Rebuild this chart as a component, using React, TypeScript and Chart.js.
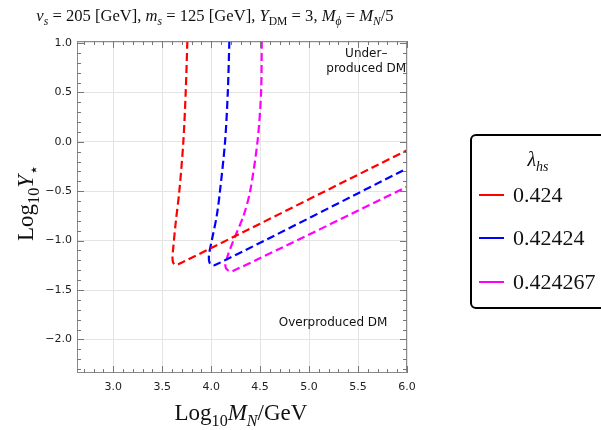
import React, { useEffect, useRef } from "react";
import { Chart, registerables } from "chart.js";
Chart.register(...registerables);

const xMin = 2.63;
const xMax = 6.0;
const yMin = -2.34;
const yMax = 1.02;

const seriesLabels = ["0.424", "0.42424", "0.424267"];
const seriesColors = ["#ff0000", "#0000ff", "#ff00ff"];

const redX = [3.757, 3.74, 3.716, 3.675, 3.64, 3.615, 3.605, 3.612, 3.635, 3.665, 6.0];
const redY = [1.02, 0.5, 0.0, -0.5, -0.8, -1.05, -1.17, -1.222, -1.245, -1.24, -0.086];
const blueX = [4.186, 4.17, 4.142, 4.09, 4.057, 4.006, 3.98, 3.978, 3.995, 4.04, 6.0];
const blueY = [1.02, 0.5, 0.0, -0.5, -0.75, -1.0, -1.13, -1.2, -1.24, -1.248, -0.27];
const magX = [4.517, 4.51, 4.473, 4.398, 4.33, 4.227, 4.166, 4.145, 4.17, 4.21, 6.0];
const magY = [1.02, 0.5, 0.0, -0.5, -0.75, -1.0, -1.163, -1.26, -1.3, -1.313, -0.456];

const xTicks = [3.0, 3.5, 4.0, 4.5, 5.0, 5.5, 6.0];
const yTicks = [-2.0, -1.5, -1.0, -0.5, 0.0, 0.5, 1.0];

type Seg = { t: string; it?: boolean; sub?: boolean };
const SERIF = '"Liberation Serif", "DejaVu Serif", serif';

function segFont(s: Seg, size: number) {
  const sz = s.sub ? size * 0.7 : size;
  return `${s.it ? "italic " : ""}${sz}px ${SERIF}`;
}
function richWidth(ctx: CanvasRenderingContext2D, segs: Seg[], size: number) {
  let w = 0;
  for (const s of segs) {
    ctx.font = segFont(s, size);
    w += ctx.measureText(s.t).width;
  }
  return w;
}
function drawRich(ctx: CanvasRenderingContext2D, segs: Seg[], x: number, y: number, size: number, align: "left" | "center") {
  let cx = align === "center" ? x - richWidth(ctx, segs, size) / 2 : x;
  ctx.textAlign = "left";
  ctx.textBaseline = "alphabetic";
  for (const s of segs) {
    ctx.font = segFont(s, size);
    ctx.fillText(s.t, cx, y + (s.sub ? size * 0.26 : 0));
    cx += ctx.measureText(s.t).width;
  }
}

const titleSegs: Seg[] = [
  { t: "v", it: true }, { t: "s", it: true, sub: true }, { t: " = 205 [GeV], " },
  { t: "m", it: true }, { t: "s", it: true, sub: true }, { t: " = 125 [GeV], " },
  { t: "Y", it: true }, { t: "DM", sub: true }, { t: " = 3, " },
  { t: "M", it: true }, { t: "ϕ", it: true, sub: true }, { t: " = " },
  { t: "M", it: true }, { t: "N", it: true, sub: true }, { t: "/5" },
];
const yTitleSegs: Seg[] = [{ t: "Log" }, { t: "10", sub: true }, { t: "Y", it: true }, { t: "⋆", sub: true }];
const xTitleSegs: Seg[] = [{ t: "Log" }, { t: "10", sub: true }, { t: "M", it: true }, { t: "N", it: true, sub: true }, { t: "/GeV" }];
const legendTitleSegs: Seg[] = [{ t: "λ", it: true }, { t: "hs", it: true, sub: true }];

function fmt(v: number) {
  const s = Math.abs(v).toFixed(1);
  return v < -1e-9 ? "−" + s : s;
}

const decor = {
  id: "decor",
  afterDraw(chart: any) {
    const ctx: CanvasRenderingContext2D = chart.ctx;
    const xs = chart.scales.x;
    const ys = chart.scales.y;
    const a = chart.chartArea;
    ctx.save();
    // frame
    ctx.strokeStyle = "#8a8a8a";
    ctx.lineWidth = 1;
    ctx.strokeRect(a.left + 0.5, a.top + 0.5, a.right - a.left - 1, a.bottom - a.top - 1);
    // inward ticks
    ctx.strokeStyle = "#777";
    ctx.beginPath();
    for (let i = 27; i <= 60; i++) {
      const v = i / 10;
      if (v < xMin || v > xMax + 1e-9) continue;
      const major = i % 5 === 0;
      const L = major ? 7 : 4;
      const px = Math.round(xs.getPixelForValue(v)) + 0.5;
      ctx.moveTo(px, a.bottom); ctx.lineTo(px, a.bottom - L);
      ctx.moveTo(px, a.top); ctx.lineTo(px, a.top + L);
    }
    for (let i = -23; i <= 10; i++) {
      const v = i / 10;
      if (v < yMin || v > yMax) continue;
      const major = i % 5 === 0;
      const L = major ? 7 : 4;
      const py = Math.round(ys.getPixelForValue(v)) + 0.5;
      ctx.moveTo(a.left, py); ctx.lineTo(a.left + L, py);
      ctx.moveTo(a.right, py); ctx.lineTo(a.right - L, py);
    }
    ctx.stroke();

    // annotations
    ctx.fillStyle = "#111";
    ctx.font = '12px "DejaVu Sans", sans-serif';
    ctx.textAlign = "center";
    ctx.textBaseline = "middle";
    ctx.fillText("Under–", xs.getPixelForValue(5.584), ys.getPixelForValue(0.89));
    ctx.fillText("produced DM", xs.getPixelForValue(5.584), ys.getPixelForValue(0.742));
    ctx.fillText("Overproduced DM", xs.getPixelForValue(5.245), ys.getPixelForValue(-1.833));

    // titles
    ctx.fillStyle = "#111";
    drawRich(ctx, titleSegs, 215, 21, 16.6, "center");
    drawRich(ctx, xTitleSegs, 241, 420, 23, "center");
    ctx.save();
    ctx.translate(33, 203);
    ctx.rotate(-Math.PI / 2);
    drawRich(ctx, yTitleSegs, 0, 0, 23, "center");
    ctx.restore();

    // legend box
    ctx.strokeStyle = "#000";
    ctx.lineWidth = 2;
    ctx.beginPath();
    (ctx as any).roundRect(471, 135, 150, 173, 5);
    ctx.stroke();
    ctx.fillStyle = "#111";
    drawRich(ctx, legendTitleSegs, 538, 166, 20, "center");
    const rows = [195, 238, 282];
    for (let i = 0; i < 3; i++) {
      ctx.strokeStyle = seriesColors[i];
      ctx.lineWidth = 2;
      ctx.beginPath();
      ctx.moveTo(479, rows[i]);
      ctx.lineTo(504, rows[i]);
      ctx.stroke();
      ctx.fillStyle = "#111";
      ctx.font = `22px ${SERIF}`;
      ctx.textAlign = "left";
      ctx.textBaseline = "middle";
      ctx.fillText(seriesLabels[i], 513, rows[i] + 1);
    }
    ctx.restore();
  },
};

function pts(xsArr: number[], ysArr: number[]) {
  return xsArr.map((x, i) => ({ x, y: ysArr[i] }));
}

export default function App() {
  const ref = useRef<HTMLCanvasElement | null>(null);
  useEffect(() => {
    document.body.style.margin = "0";
    const canvas = ref.current!;
    const series = [pts(redX, redY), pts(blueX, blueY), pts(magX, magY)];
    const chart = new Chart(canvas, {
      type: "scatter",
      data: {
        datasets: series.map((d, i) => ({
          label: seriesLabels[i],
          data: d,
          showLine: true,
          borderColor: seriesColors[i],
          backgroundColor: seriesColors[i],
          borderWidth: 2.2,
          borderDash: [8, 4],
          pointRadius: 0,
          tension: 0.3,
          fill: false,
        })),
      },
      options: {
        animation: false,
        responsive: false,
        maintainAspectRatio: false,
        layout: { padding: { top: 41, right: 194, left: 0, bottom: 0 } },
        plugins: { legend: { display: false }, tooltip: { enabled: false } },
        scales: {
          x: {
            type: "linear",
            min: xMin,
            max: xMax,
            afterFit: (s: any) => { s.height = 57; },
            afterBuildTicks: (s: any) => { s.ticks = xTicks.map((v) => ({ value: v })); },
            grid: { color: "#e4e4e4", drawTicks: false },
            border: { display: false },
            ticks: {
              autoSkip: false,
              maxRotation: 0,
              padding: 8,
              color: "#222",
              font: { family: "DejaVu Sans", size: 11 },
              callback: (v: any) => fmt(Number(v)),
            },
          },
          y: {
            type: "linear",
            min: yMin,
            max: yMax,
            afterFit: (s: any) => { s.width = 77; },
            afterBuildTicks: (s: any) => { s.ticks = yTicks.map((v) => ({ value: v })); },
            grid: { color: "#e4e4e4", drawTicks: false },
            border: { display: false },
            ticks: {
              autoSkip: false,
              padding: 5,
              color: "#222",
              font: { family: "DejaVu Sans", size: 11 },
              callback: (v: any) => fmt(Number(v)),
            },
          },
        },
      },
      plugins: [decor],
    } as any);
    return () => chart.destroy();
  }, []);
  return (
    <div style={{ width: 601, height: 430, position: "relative" }}>
      <canvas ref={ref} width={601} height={430} style={{ display: "block", width: 601, height: 430 }} />
    </div>
  );
}
